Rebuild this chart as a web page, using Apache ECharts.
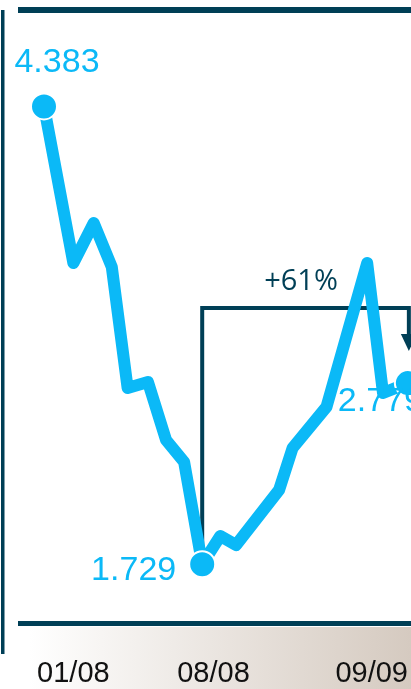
<!DOCTYPE html>
<html>
<head>
<meta charset="utf-8">
<script src="https://cdn.jsdelivr.net/npm/echarts@6/dist/echarts.min.js"></script>
<style>
  html, body { margin: 0; padding: 0; background: #ffffff; }
  #chart { width: 411px; height: 689px; }
</style>
</head>
<body>
<div id="chart"></div>
<script>
// Sample positions along the time axis (day index) and the series values
const days   = [0, 13, 22, 30, 37, 46, 54, 62, 70, 78, 85, 104, 110, 125, 143, 150, 161];
const values = [4.383, 3.475, 3.707, 3.452, 2.751, 2.786, 2.449, 2.322, 1.729, 1.893, 1.841, 2.159, 2.403, 2.641, 3.475, 2.722, 2.779];

// Points that get a dot and a value label
const highlighted = [0, 8, 16];

// Axis tick labels and where they sit on the day axis
const tickDays   = [13, 75, 145];
const tickLabels = ['01/08', '08/08', '09/09'];

// Rise from the low to the last value
const lowIndex = 8;
const lastIndex = 16;
const changeText = '+61%';

const BLUE = '#0bb9f7';
const NAVY = '#003f56';
const SANS = '"Liberation Sans", Arial, sans-serif';

const chart = echarts.init(document.getElementById('chart'), null, { renderer: 'canvas' });

const labelStyles = {
  0:  { align: 'center', offset: [13, -44] },
  8:  { align: 'right',  offset: [-26, 6] },
  16: { align: 'left',   offset: [-70, 19] }
};

const seriesData = days.map((d, i) => {
  const item = { value: [d, values[i]] };
  if (highlighted.includes(i)) {
    item.symbol = 'circle';
    item.symbolSize = 26;
    item.itemStyle = { color: BLUE, borderColor: '#ffffff', borderWidth: 2 };
    item.label = {
      show: true,
      position: 'inside',
      align: labelStyles[i].align,
      verticalAlign: 'middle',
      offset: labelStyles[i].offset,
      formatter: p => p.value[1].toFixed(3),
      color: BLUE,
      fontFamily: SANS,
      fontSize: 34
    };
  }
  return item;
});

chart.setOption({
  animation: false,
  grid: { left: 44, right: 3.14, top: 0, bottom: 68, containLabel: false },
  xAxis: {
    type: 'value',
    min: 0,
    max: 161,
    z: 5,
    axisLine: { show: false },
    axisTick: { show: false },
    splitLine: { show: false },
    axisLabel: {
      customValues: tickDays,
      formatter: v => tickLabels[tickDays.indexOf(v)] || '',
      color: '#111111',
      fontFamily: SANS,
      fontSize: 29,
      margin: 38
    }
  },
  yAxis: {
    type: 'value',
    min: 1.4,
    max: 5.0,
    show: false
  },
  series: [{
    type: 'line',
    data: seriesData,
    symbol: 'none',
    clip: false,
    z: 3,
    lineStyle: { color: BLUE, width: 12, cap: 'round', join: 'round' },
    itemStyle: { color: BLUE },
    emphasis: { disabled: true }
  }]
});

// Frame rules, footer band and the change bracket
const low  = chart.convertToPixel({ gridIndex: 0 }, [days[lowIndex], values[lowIndex]]);
const last = chart.convertToPixel({ gridIndex: 0 }, [days[lastIndex], values[lastIndex]]);
const bracketY = 308;
const tipY = last[1] - 32;
const headTop = tipY - 17;

chart.setOption({
  graphic: [
    {
      type: 'rect', z: 0, silent: true,
      shape: { x: 0, y: 627, width: 411, height: 62 },
      style: {
        fill: new echarts.graphic.LinearGradient(0, 0, 1, 0, [
          { offset: 0.07, color: '#ffffff' },
          { offset: 1, color: '#d5cac0' }
        ])
      }
    },
    { type: 'rect', z: 1, silent: true, shape: { x: 18, y: 7, width: 393, height: 6 }, style: { fill: NAVY } },
    { type: 'rect', z: 1, silent: true, shape: { x: 1, y: 10, width: 3.5, height: 644 }, style: { fill: NAVY } },
    { type: 'rect', z: 1, silent: true, shape: { x: 18, y: 621, width: 393, height: 5 }, style: { fill: NAVY } },
    {
      type: 'polyline', z: 1, silent: true,
      shape: { points: [[low[0], low[1]], [low[0], bracketY], [last[0] + 1, bracketY], [last[0] + 1, headTop + 2]] },
      style: { stroke: NAVY, lineWidth: 4, fill: null, lineJoin: 'miter' }
    },
    {
      type: 'polygon', z: 1, silent: true,
      shape: { points: [[last[0] - 7, headTop], [last[0] + 9, headTop], [last[0] + 1, tipY]] },
      style: { fill: NAVY }
    },
    {
      type: 'text', z: 1, silent: true,
      style: {
        x: (low[0] + last[0]) / 2 - 4,
        y: bracketY - 26,
        text: changeText,
        fill: NAVY,
        font: '500 29px "Open Sans", sans-serif',
        align: 'center',
        verticalAlign: 'middle'
      }
    }
  ]
});
</script>
</body>
</html>
